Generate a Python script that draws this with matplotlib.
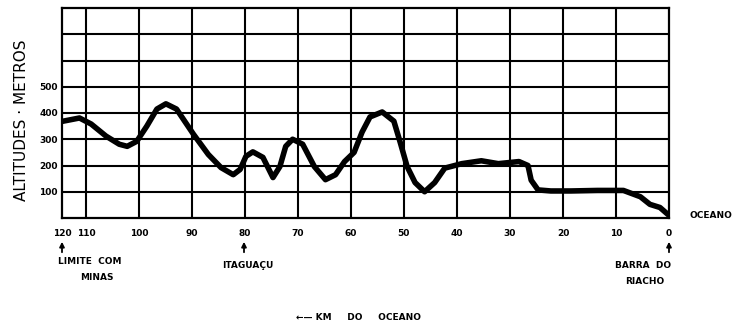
import matplotlib
matplotlib.use("Agg")
import matplotlib.pyplot as plt

# profile: km from the ocean, altitude in metres
km = [114.5, 111.2, 109.0, 106.2, 103.7, 102.2, 100.4, 98.5, 96.6, 94.9,
      92.9, 89.7, 86.9, 84.5, 82.2, 80.9, 79.8, 78.5, 76.6, 74.7,
      73.4, 72.3, 71.0, 69.1, 66.9, 64.8, 62.9, 61.2, 59.4, 57.9,
      56.4, 54.1, 51.9, 50.7, 49.4, 47.9, 46.1, 44.2, 42.3, 39.1,
      35.4, 32.2, 28.3, 26.6, 26.0, 24.7, 22.3, 18.5, 13.5, 8.6,
      5.4, 3.6, 1.7, 0.0]
alt = [368, 381, 358, 312, 281, 273, 292, 350, 415, 435,
       415, 319, 242, 192, 165, 185, 235, 252, 231, 154,
       196, 273, 300, 281, 196, 146, 165, 215, 250, 327,
       385, 404, 369, 288, 196, 135, 100, 135, 190, 207,
       218, 207, 215, 200, 144, 107, 103, 103, 105, 105,
       81, 52, 40, 10]

x_ticks = [114.5, 110, 100, 90, 80, 70, 60, 50, 40, 30, 20, 10, 0]
x_labels = ['120', '110', '100', '90', '80', '70', '60', '50', '40', '30', '20', '10', '0']
y_ticks = [100, 200, 300, 400, 500]

W, H = 733, 329
fig = plt.figure(figsize=(W / 100, H / 100), dpi=100)
ax = fig.add_axes([62 / W, 1 - 218 / H, (669 - 62) / W, 210 / H])

def fx(px):
    return px / W

def fy(py):
    return 1 - py / H

ax.set_xlim(114.5, 0)
ax.set_ylim(0, 800)
ax.set_xticks(x_ticks)
ax.set_xticklabels(x_labels)
ax.set_yticks(y_ticks)
ax.tick_params(which='both', length=0, labelsize=6.5)
ax.tick_params(axis='x', pad=8)
ax.tick_params(axis='y', pad=3)
for lab in ax.get_xticklabels() + ax.get_yticklabels():
    lab.set_fontweight('bold')

for v in range(100, 800, 100):
    ax.axhline(v, color='black', lw=1.5, zorder=1)
for v in x_ticks[1:-1]:
    ax.axvline(v, color='black', lw=1.5, zorder=1)
for s in ax.spines.values():
    s.set_linewidth(1.6)

ax.plot(km, alt, color='black', lw=4, solid_joinstyle='round',
        solid_capstyle='round', zorder=3)

fig.text(fx(22), fy(120), 'ALTITUDES · METROS', rotation=90, ha='center',
         va='center', fontsize=11)

# markers under the axis
arrow = dict(arrowstyle='-|>', color='black', lw=1.3, mutation_scale=7)
for px in [62, 244, 669]:
    ax.annotate('', xy=(fx(px), fy(239)), xytext=(fx(px), fy(255)),
                xycoords='figure fraction', textcoords='figure fraction',
                arrowprops=arrow)

small = dict(fontsize=6.5, fontweight='bold', va='center')
fig.text(fx(58), fy(262), 'LIMITE  COM', ha='left', **small)
fig.text(fx(97), fy(278), 'MINAS', ha='center', **small)
fig.text(fx(248), fy(265), 'ITAGUAÇU', ha='center', **small)
fig.text(fx(643), fy(266), 'BARRA  DO', ha='center', **small)
fig.text(fx(645), fy(281), 'RIACHO', ha='center', **small)
fig.text(fx(732), fy(215), 'OCEANO', ha='right', **small)
fig.text(fx(358), fy(318), '←— KM     DO     OCEANO', ha='center', **small)

plt.savefig('out.png', dpi=100)
